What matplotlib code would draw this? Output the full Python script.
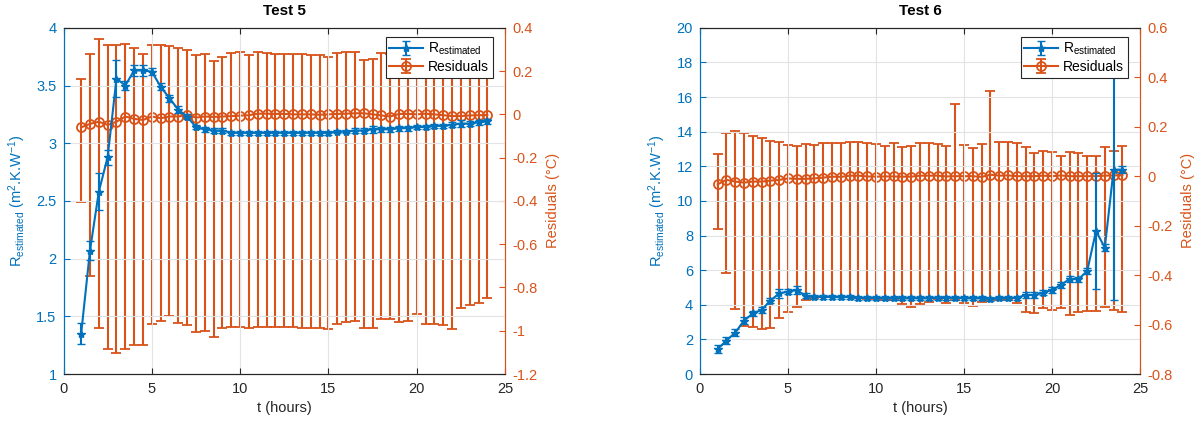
import numpy as np
import matplotlib
matplotlib.use("Agg")
import matplotlib.pyplot as plt

plt.rcParams['font.family'] = ['Liberation Sans', 'DejaVu Sans']
plt.rcParams['mathtext.fontset'] = 'custom'
plt.rcParams['mathtext.rm'] = 'Liberation Sans'
plt.rcParams['mathtext.it'] = 'Liberation Sans'

# ---------------- data ----------------
t_hours = [1.0 + 0.5 * i for i in range(47)]

# Test 5
r5 = [1.35, 2.07, 2.58, 2.88, 3.56, 3.50, 3.63, 3.63, 3.62, 3.49, 3.39, 3.29, 3.23, 3.14,
      3.12, 3.11, 3.11, 3.09, 3.09, 3.09, 3.09, 3.09, 3.09, 3.09, 3.09, 3.09, 3.09, 3.09,
      3.09, 3.10, 3.10, 3.11, 3.11, 3.12, 3.12, 3.12, 3.13, 3.13, 3.14, 3.14, 3.15, 3.15,
      3.16, 3.17, 3.17, 3.18, 3.19]
r5_err = [0.09, 0.085, 0.16, 0.065, 0.16, 0.04, 0.05, 0.05, 0.03, 0.03, 0.03, 0.03, 0.02, 0.02,
          0.02, 0.02, 0.02, 0.02, 0.015, 0.015, 0.015, 0.015, 0.015, 0.015, 0.015, 0.015, 0.015, 0.015,
          0.015, 0.015, 0.015, 0.02, 0.02, 0.03, 0.02, 0.02, 0.02, 0.02, 0.02, 0.02, 0.02, 0.02,
          0.02, 0.03, 0.02, 0.02, 0.02]
res5 = [-0.06, -0.044, -0.034, -0.049, -0.034, -0.01, -0.021, -0.026, -0.01, -0.018, -0.01, -0.01,
        -0.003, -0.015, -0.01, -0.012, -0.01, -0.008, -0.006, -0.004, 0.003, 0.003, 0.002, 0.002,
        0.0, 0.0, 0.0, -0.002, 0.0, 0.002, 0.003, 0.005, 0.005, 0.0, -0.005, -0.01, 0.002, 0.002,
        0.0, 0.003, 0.0, -0.004, -0.008, -0.008, -0.005, -0.004, -0.003]
res5_upper = [0.162, 0.279, 0.348, 0.321, 0.321, 0.325, 0.305, 0.279, 0.321, 0.321, 0.316, 0.305,
              0.298, 0.274, 0.279, 0.248, 0.267, 0.282, 0.287, 0.274, 0.287, 0.282, 0.279, 0.279,
              0.279, 0.279, 0.276, 0.274, 0.267, 0.282, 0.29, 0.29, 0.251, 0.254, 0.282, 0.28,
              0.28, 0.28, 0.28, 0.28, 0.28, 0.28, 0.28, 0.28, 0.28, 0.28, 0.28]
res5_lower = [-0.403, -0.747, -0.988, -1.086, -1.104, -1.084, -1.066, -1.066, -0.969, -0.953, -0.932,
              -0.962, -0.975, -1.004, -0.999, -1.027, -0.988, -0.982, -0.981, -0.988, -0.982, -0.985,
              -0.985, -0.985, -0.985, -0.988, -0.988, -0.988, -0.993, -0.969, -0.961, -0.953, -0.986,
              -0.986, -0.947, -0.944, -0.959, -0.956, -0.924, -0.967, -0.967, -0.975, -0.993, -0.896,
              -0.882, -0.872, -0.847]

# Test 6
r6 = [1.44, 1.93, 2.39, 3.08, 3.50, 3.70, 4.24, 4.66, 4.76, 4.85, 4.52, 4.47, 4.47, 4.45,
      4.43, 4.45, 4.40, 4.40, 4.40, 4.37, 4.37, 4.37, 4.37, 4.37, 4.37, 4.40, 4.40, 4.40,
      4.37, 4.37, 4.37, 4.35, 4.37, 4.37, 4.40, 4.56, 4.56, 4.70, 4.85, 5.14, 5.49, 5.47,
      5.95, 8.26, 7.30, 11.8, 11.8]
r6_err = [0.25, 0.2, 0.2, 0.2, 0.15, 0.15, 0.15, 0.25, 0.15, 0.25, 0.15, 0.12, 0.12, 0.12,
          0.12, 0.12, 0.12, 0.12, 0.12, 0.12, 0.12, 0.12, 0.12, 0.12, 0.12, 0.12, 0.12, 0.12,
          0.12, 0.12, 0.12, 0.12, 0.12, 0.12, 0.12, 0.15, 0.15, 0.15, 0.15, 0.15, 0.15, 0.15,
          0.2, 3.37, 0.2, 7.5, 0.2]
res6 = [-0.033, -0.015, -0.022, -0.026, -0.022, -0.022, -0.018, -0.015, -0.009, -0.011, -0.011,
        -0.009, -0.006, -0.002, -0.003, 0.002, 0.002, -0.001, -0.002, -0.001, -0.001, -0.002,
        -0.002, 0.002, 0.002, 0.002, -0.001, 0.0, 0.0, 0.0, -0.003, 0.006, 0.002, 0.003, 0.0,
        0.0, 0.0, 0.002, 0.0, 0.003, 0.0, 0.0, 0.0, 0.0, 0.002, 0.003, 0.004]
res6_upper = [0.090, 0.176, 0.183, 0.173, 0.163, 0.156, 0.142, 0.140, 0.126, 0.122, 0.13, 0.126,
              0.133, 0.133, 0.135, 0.140, 0.137, 0.135, 0.13, 0.122, 0.135, 0.117, 0.12, 0.133,
              0.135, 0.130, 0.122, 0.291, 0.126, 0.113, 0.13, 0.345, 0.138, 0.14, 0.133, 0.117,
              0.095, 0.102, 0.099, 0.083, 0.099, 0.095, 0.083, 0.083, 0.119, 0.103, 0.123]
res6_lower = [-0.215, -0.39, -0.538, -0.606, -0.611, -0.619, -0.614, -0.575, -0.549, -0.530, -0.50,
              -0.492, -0.487, -0.49, -0.487, -0.49, -0.494, -0.495, -0.498, -0.50, -0.50, -0.518,
              -0.530, -0.516, -0.507, -0.498, -0.514, -0.50, -0.511, -0.525, -0.507, -0.50, -0.50,
              -0.50, -0.511, -0.548, -0.552, -0.534, -0.541, -0.534, -0.561, -0.548, -0.545, -0.545,
              -0.530, -0.541, -0.548]

titles = ["Test 5", "Test 6"]
left_lims = [(1, 4), (0, 20)]
left_ticks = [np.arange(1, 4.01, 0.5), np.arange(0, 20.1, 2)]
right_lims = [(-1.2, 0.4), (-0.8, 0.6)]
right_ticks = [np.arange(-1.2, 0.41, 0.2), np.arange(-0.8, 0.61, 0.2)]
x_ticks = [0, 5, 10, 15, 20, 25]

BLUE = '#0072BD'
ORANGE = '#D95319'
DARK = '#262626'

fig = plt.figure(figsize=(11.95, 4.23), dpi=100)
W, H = 1195, 423
positions = [(63.5, 505), (700, 1140)]
top_px, bot_px = 27.8, 374

datasets = [(r5, r5_err, res5, res5_lower, res5_upper),
            (r6, r6_err, res6, res6_lower, res6_upper)]

def fmt(v):
    s = f"{v:.1f}".rstrip('0').rstrip('.') if abs(v - round(v)) > 1e-9 else f"{int(round(v))}"
    if s == "-0":
        s = "0"
    return s

for k in range(2):
    x0, x1 = positions[k]
    ax1 = fig.add_axes([x0 / W, 1 - bot_px / H, (x1 - x0) / W, (bot_px - top_px) / H])
    ax2 = ax1.twinx()
    r, rerr, res, lo, hi = datasets[k]
    res_a = np.array(res)
    yerr_res = [res_a - np.array(lo), np.array(hi) - res_a]

    eb2 = ax2.errorbar(t_hours, res, yerr=yerr_res, color=ORANGE, marker='o', ms=6.5,
                       mfc='none', mec=ORANGE, mew=1.3, lw=1.5, elinewidth=1.5,
                       capsize=3.6, capthick=1.5, label='Residuals')
    eb1 = ax1.errorbar(t_hours, r, yerr=rerr, color=BLUE, marker='*', ms=6, mew=1.0,
                       lw=1.5, elinewidth=1.5, capsize=3.2, capthick=1.5,
                       label=r'R$_{\mathrm{estimated}}$')

    ax1.set_zorder(ax2.get_zorder() + 1)
    ax1.patch.set_visible(False)

    ax1.set_xlim(0, 25)
    ax1.set_xticks(x_ticks)
    ax1.set_ylim(*left_lims[k])
    ax1.set_yticks(left_ticks[k])
    ax1.set_yticklabels([fmt(v) for v in left_ticks[k]])
    ax2.set_ylim(*right_lims[k])
    ax2.set_yticks(right_ticks[k])
    ax2.set_yticklabels([fmt(v) for v in right_ticks[k]])

    ax1.grid(True, color='#e3e3e3', lw=0.8)
    ax1.set_axisbelow(True)

    ax1.tick_params(axis='x', direction='in', colors=DARK, labelsize=10.5, top=True,
                    length=4, pad=6)
    ax1.tick_params(axis='y', direction='in', colors=BLUE, labelsize=10.5, length=4, pad=5)
    ax2.tick_params(axis='y', direction='in', colors=ORANGE, labelsize=10.5, length=4, pad=5)

    for a in (ax1, ax2):
        a.spines['top'].set_color(DARK)
        a.spines['bottom'].set_color(DARK)
        a.spines['left'].set_color(BLUE)
        a.spines['right'].set_color(ORANGE)
        for s in a.spines.values():
            s.set_linewidth(0.8)

    ax1.set_xlabel('t (hours)', fontsize=10.5, color=DARK, labelpad=3)
    ax1.set_ylabel(r'R$_{\mathrm{estimated}}$ (m$^{2}$.K.W$^{-1}$)', fontsize=10.5,
                   color=BLUE, labelpad=6)
    ax2.set_ylabel('Residuals (°C)', fontsize=10.5, color=ORANGE, labelpad=6)
    ax1.set_title(titles[k], fontsize=11, fontweight='bold', color='black', pad=9)

    leg = ax1.legend([eb1, eb2], [r'R$_{\mathrm{estimated}}$', 'Residuals'],
                     loc='upper right', bbox_to_anchor=(0.972, 0.972), borderaxespad=0,
                     fontsize=10, fancybox=False, framealpha=1, edgecolor=DARK,
                     handlelength=2.4, borderpad=0.25, labelspacing=0.2, handletextpad=0.4)
    leg.get_frame().set_linewidth(0.8)

fig.savefig('out.png', dpi=100)
